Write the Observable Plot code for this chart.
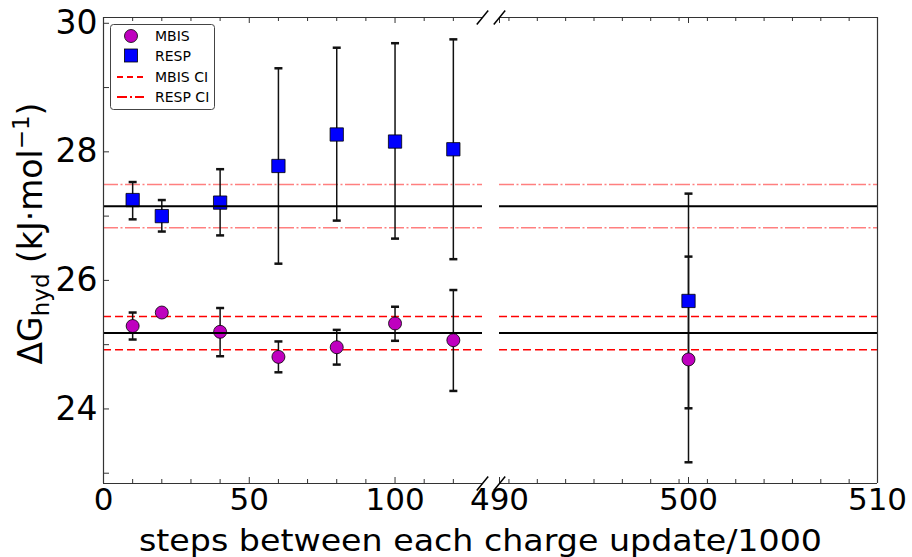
<!DOCTYPE html>
<html><head><meta charset="utf-8">
<script src="https://cdn.jsdelivr.net/npm/d3@7"></script>
<script src="https://cdn.jsdelivr.net/npm/@observablehq/plot@0.6"></script>
<style>
body{margin:0;background:#fff;}
#fig{position:relative;width:912px;height:557px;font-family:"DejaVu Sans",sans-serif;}
#fig svg{position:absolute;top:0;}
</style></head><body><div id="fig"></div>
<script>
// ---- data ----
const stepsLeft = [10, 20, 40, 60, 80, 100, 120];
const mbisMean = [25.29, 25.50, 25.20, 24.81, 24.96, 25.33, 25.07];
const mbisLo   = [25.08, 25.47, 24.82, 24.57, 24.69, 25.06, 24.28];
const mbisHi   = [25.50, 25.53, 25.57, 25.05, 25.23, 25.59, 25.85];
const respMean = [27.25, 27.00, 27.21, 27.78, 28.27, 28.16, 28.04];
const respLo   = [26.95, 26.76, 26.70, 26.26, 26.93, 26.65, 26.33];
const respHi   = [27.53, 27.25, 27.73, 29.30, 29.62, 29.69, 29.75];
const stepsRight = [500];
const mbisMeanR = [24.77], mbisLoR = [23.17], mbisHiR = [26.37];
const respMeanR = [25.68], respLoR = [24.01], respHiR = [27.35];
const refMeans = [25.18, 27.155];
const mbisCI = [24.92, 25.44];
const respCI = [26.82, 27.49];
const yDomain = [22.84, 30.09];
const leftDomain = [0, 130];
const rightDomain = [490, 510];
const leftMajor = [0, 50, 100];
const leftMinor = [10, 20, 30, 40, 60, 70, 80, 90, 110, 120];
const rightMajor = [490, 500, 510];
const rightMinor = [490.5, 492, 493.5, 495, 496.5, 498, 499.5, 501, 502.5, 504, 505.5, 507, 508.5];
const yTicks = [23, 24, 25, 26, 27, 28, 29, 30];
const yLabels = [24, 26, 28, 30];
const legendItems = ["MBIS", "RESP", "MBIS CI", "RESP CI"];

// ---- layout ----
const H = 557, MT = 17, MB = 74, PH = H - MT - MB;
const MAG = "#bf00bf", BLUE = "#0000ff", RED = "#ff0000";
const cap = {draw(ctx) { ctx.moveTo(-4, 0); ctx.lineTo(4, 0); }};

function series(steps, m, lo, hi) { return steps.map((s, i) => ({x: s, y: m[i], lo: lo[i], hi: hi[i]})); }
const mbisL = series(stepsLeft, mbisMean, mbisLo, mbisHi);
const respL = series(stepsLeft, respMean, respLo, respHi);
const mbisR = series(stepsRight, mbisMeanR, mbisLoR, mbisHiR);
const respR = series(stepsRight, respMeanR, respLoR, respHiR);

function dataMarks(mbis, resp) {
  return [
    Plot.ruleY(mbisCI, {stroke: RED, strokeWidth: 1.5, strokeDasharray: "8,4"}),
    Plot.ruleY(respCI, {stroke: RED, strokeOpacity: 0.5, strokeWidth: 1.5, strokeDasharray: "15,2.5,2,2.5"}),
    ...[mbis, resp].flatMap(d => [
      Plot.ruleX(d, {x: "x", y1: "lo", y2: "hi", stroke: "#111", strokeWidth: 1.5}),
      Plot.dot(d, {x: "x", y: "lo", symbol: cap, fill: "none", stroke: "#111", strokeWidth: 2.5}),
      Plot.dot(d, {x: "x", y: "hi", symbol: cap, fill: "none", stroke: "#111", strokeWidth: 2.5})
    ]),
    Plot.dot(mbis, {x: "x", y: "y", r: 6.5, fill: MAG, stroke: "#000", strokeWidth: 0.8}),
    Plot.dot(resp, {x: "x", y: "y", r: 7.5, symbol: "square", fill: BLUE, stroke: "#000", strokeWidth: 0.8}),
    Plot.ruleY(refMeans, {stroke: "#000", strokeWidth: 2})
  ];
}
function xTicks(major, minor) {
  return [
    Plot.ruleX(major, {insetTop: PH - 6, stroke: "#333"}),
    Plot.ruleX(minor, {insetTop: PH - 4, stroke: "#333"}),
    Plot.ruleX(major, {insetBottom: PH - 6, stroke: "#333"}),
    Plot.ruleX(minor, {insetBottom: PH - 4, stroke: "#333"}),
    Plot.axisX({ticks: major, tickSize: 0, tickPadding: 4, label: null, fontSize: 31, fill: "#000"})
  ];
}
function slash(xc, yc, dxU, dyU) {
  return Plot.link([0], {x1: xc - dxU, y1: yc - dyU, x2: xc + dxU, y2: yc + dyU, stroke: "#000", strokeWidth: 1.5});
}
const style = {background: "transparent", overflow: "visible", fontFamily: "DejaVu Sans", fontSize: "33px", color: "#000"};

const yUnit = (yDomain[1] - yDomain[0]) / PH;
// left panel
const WL = 482, MLL = 103;
const xUnitL = (leftDomain[1] - leftDomain[0]) / (WL - MLL);
const left = Plot.plot({
  width: WL, height: H, marginLeft: MLL, marginRight: 0, marginTop: MT, marginBottom: MB,
  x: {domain: leftDomain}, y: {domain: yDomain},
  style,
  marks: [
    ...dataMarks(mbisL, respL),
    Plot.ruleX([leftDomain[0]], {stroke: "#333", strokeWidth: 1.2}),
    Plot.ruleY(yDomain, {stroke: "#333", strokeWidth: 1.2}),
    ...xTicks(leftMajor, leftMinor),
    Plot.ruleY(yTicks, {insetRight: (WL - MLL) - 6, stroke: "#333"}),
    Plot.axisY({ticks: yLabels, tickSize: 0, tickPadding: 6, label: null, fontSize: 33, fill: "#000"}),
    slash(leftDomain[1], yDomain[1], 5.7 * xUnitL, 7 * yUnit),
    slash(leftDomain[1], yDomain[0], 5.7 * xUnitL, 7 * yUnit)
  ]
});
left.style.left = "0px";

// right panel
const RX = 440, WR = 912 - RX, MLR = 499 - RX, MRR = 912 - 877;
const xUnitR = (rightDomain[1] - rightDomain[0]) / (WR - MLR - MRR);
const right = Plot.plot({
  width: WR, height: H, marginLeft: MLR, marginRight: MRR, marginTop: MT, marginBottom: MB,
  x: {domain: rightDomain}, y: {domain: yDomain, axis: null},
  style,
  marks: [
    ...dataMarks(mbisR, respR),
    Plot.ruleX([rightDomain[1]], {stroke: "#333", strokeWidth: 1.2}),
    Plot.ruleY(yDomain, {stroke: "#333", strokeWidth: 1.2}),
    ...xTicks(rightMajor, rightMinor),
    slash(rightDomain[0], yDomain[1], 5.7 * xUnitR, 7 * yUnit),
    slash(rightDomain[0], yDomain[0], 5.7 * xUnitR, 7 * yUnit)
  ]
});
right.style.left = RX + "px";

const fig = document.getElementById("fig");
fig.appendChild(left);
fig.appendChild(right);

// overlay: axis titles and legend
const ns = "http://www.w3.org/2000/svg";
const ov = document.createElementNS(ns, "svg");
ov.setAttribute("width", 912); ov.setAttribute("height", H);
ov.style.left = "0px"; ov.style.pointerEvents = "none";
ov.innerHTML = `
<g font-family="DejaVu Sans" fill="#000">
  <text x="480.5" y="550.5" text-anchor="middle" font-size="30" textLength="683" lengthAdjust="spacingAndGlyphs">steps between each charge update/1000</text>
  <text transform="translate(42,233.5) rotate(-90)" text-anchor="middle" font-size="33">ΔG<tspan font-size="23" dy="7">hyd</tspan><tspan dy="-7"> (kJ·mol</tspan><tspan font-size="23" dy="-13">−1</tspan><tspan dy="13">)</tspan></text>
  <rect x="110.5" y="24.5" width="104" height="85" rx="3" fill="rgba(255,255,255,0.85)" stroke="#444" stroke-width="1"/>
  <circle cx="131" cy="36" r="6.5" fill="${MAG}" stroke="#000" stroke-width="0.8"/>
  <rect x="124.5" y="49" width="13" height="13" fill="${BLUE}" stroke="#000" stroke-width="0.8"/>
  <line x1="117" x2="144" y1="77" y2="77" stroke="${RED}" stroke-width="2" stroke-dasharray="6,4"/>
  <line x1="117" x2="144" y1="97" y2="97" stroke="${RED}" stroke-width="2" stroke-dasharray="10,3,2,3"/>
  ${legendItems.map((t, i) => `<text x="155" y="${36 + i * 20.3}" dy="0.35em" font-size="14">${t}</text>`).join("")}
</g>`;
fig.appendChild(ov);
</script></body></html>
